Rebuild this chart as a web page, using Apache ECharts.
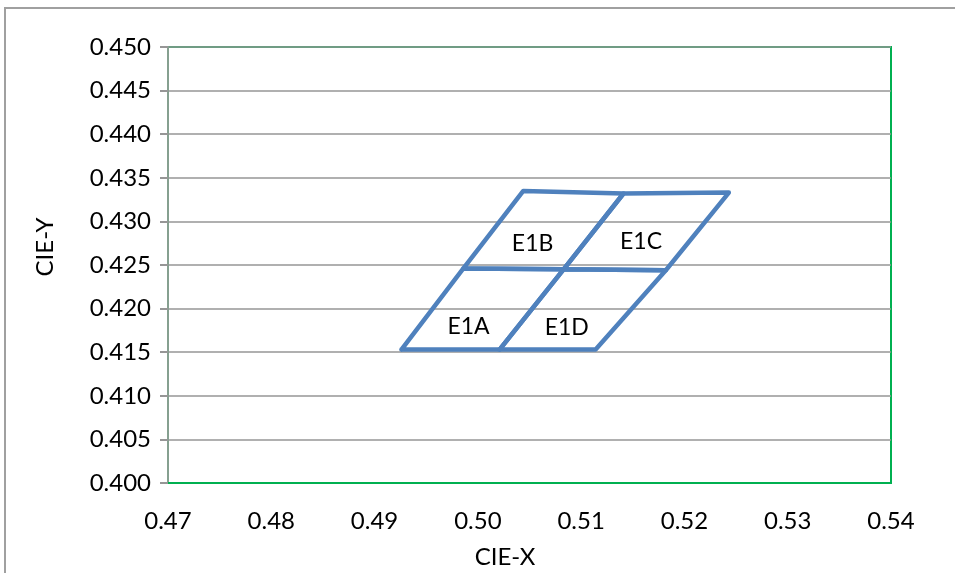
<!DOCTYPE html>
<html>
<head>
<meta charset="utf-8">
<script src="https://cdn.jsdelivr.net/npm/echarts@6/dist/echarts.min.js"></script>
<style>html,body{margin:0;padding:0;background:#fff;}#c{width:955px;height:573px;}</style>
</head>
<body>
<div id="c"></div>
<script>
// Bin names and quadrangle corners (CIE x, CIE y), closed polygons
var binNames = ['E1A', 'E1B', 'E1C', 'E1D'];
var binX = [
  [0.4926, 0.4986, 0.5083, 0.5021, 0.4926],
  [0.4986, 0.5044, 0.5141, 0.5083, 0.4986],
  [0.5083, 0.5141, 0.5243, 0.5182, 0.5083],
  [0.5021, 0.5083, 0.5182, 0.5114, 0.5021]
];
var binY = [
  [0.4153, 0.4246, 0.4245, 0.4153, 0.4153],
  [0.4246, 0.4335, 0.4332, 0.4245, 0.4246],
  [0.4245, 0.4332, 0.4333, 0.4244, 0.4245],
  [0.4153, 0.4245, 0.4244, 0.4153, 0.4153]
];
// label anchor points
var labelX = [0.4991, 0.5053, 0.5158, 0.5086];
var labelY = [0.4179, 0.4275, 0.4277, 0.4178];
var xTicks = [0.47, 0.48, 0.49, 0.50, 0.51, 0.52, 0.53, 0.54];
var yTicks = [0.400, 0.405, 0.410, 0.415, 0.420, 0.425, 0.430, 0.435, 0.440, 0.445, 0.450];

var font = 'Lato, "Open Sans", sans-serif';
var chart = echarts.init(document.getElementById('c'), null, {renderer: 'canvas'});

var series = [];
for (var i = 0; i < binNames.length; i++) {
  var pts = [];
  for (var j = 0; j < binX[i].length; j++) pts.push([binX[i][j], binY[i][j]]);
  series.push({
    type: 'line', name: binNames[i], data: pts, showSymbol: false, symbol: 'none',
    lineStyle: {color: '#4f81bd', width: 4.5, join: 'round', cap: 'round'},
    z: 3, animation: false
  });
}
var lbl = [];
for (var k = 0; k < binNames.length; k++) lbl.push({value: [labelX[k], labelY[k]], name: binNames[k]});
series.push({
  type: 'scatter', data: lbl, symbolSize: 1, itemStyle: {color: 'rgba(0,0,0,0)'},
  label: {show: true, position: 'inside', formatter: function (p) { return p.name; },
    color: '#000', fontSize: 23, fontFamily: font, opacity: 1},
  z: 4, animation: false
});

chart.setOption({
  animation: false,
  backgroundColor: '#fff',
  grid: {left: 168, right: 64, top: 47, bottom: 90, show: true, borderColor: '#00b050', borderWidth: 2, backgroundColor: 'transparent'},
  xAxis: {
    type: 'value', min: 0.47, max: 0.54, interval: 0.01,
    axisLine: {show: true, lineStyle: {color: '#00b050', width: 2}},
    axisTick: {show: false},
    splitLine: {show: false},
    axisLabel: {color: '#000', fontSize: 24, fontFamily: font, margin: 26,
      formatter: function (v) { return v.toFixed(2); }}
  },
  yAxis: {
    type: 'value', min: 0.400, max: 0.450, interval: 0.005,
    axisLine: {show: true, lineStyle: {color: '#86a090', width: 2}},
    axisTick: {show: true, length: 8, lineStyle: {color: '#969696', width: 2}},
    splitLine: {show: true, lineStyle: {color: '#969696', width: 1.5}},
    axisLabel: {color: '#000', fontSize: 24, fontFamily: font, margin: 17,
      formatter: function (v) { return v.toFixed(3); }}
  },
  graphic: [
    {type: 'rect', shape: {x: 5, y: 8, width: 980, height: 600}, style: {fill: 'none', stroke: '#a0a0a0', lineWidth: 2}, z: 0, silent: true},
    {type: 'text', x: 505, y: 557, style: {text: 'CIE-X', font: '24px ' + font, fill: '#000', textAlign: 'center', textVerticalAlign: 'middle'}},
    {type: 'text', x: 45, y: 247, rotation: Math.PI / 2, style: {text: 'CIE-Y', font: '24px ' + font, fill: '#000', textAlign: 'center', textVerticalAlign: 'middle'}}
  ],
  series: series
});
</script>
</body>
</html>
